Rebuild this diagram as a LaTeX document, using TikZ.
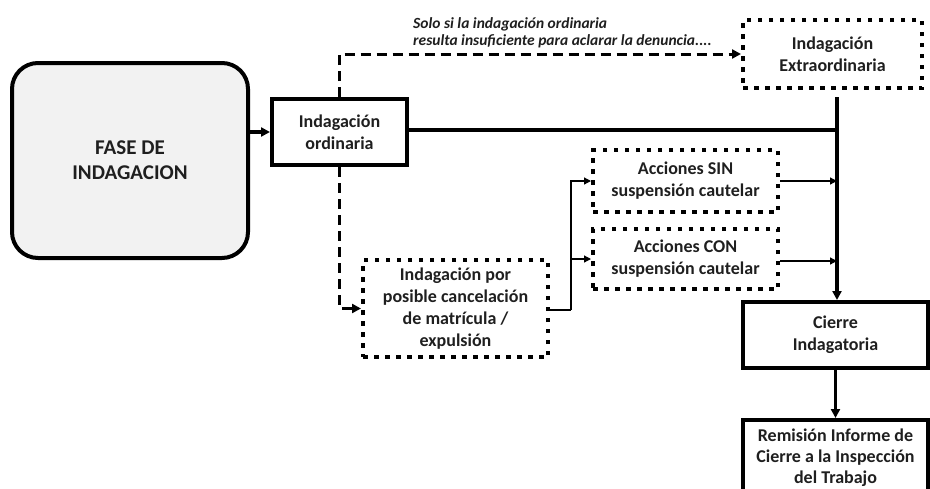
\documentclass[tikz,border=0pt]{standalone}
\usepackage{fontspec}
\setmainfont{Carlito}
\usetikzlibrary{arrows.meta,calc}
\begin{document}
\begin{tikzpicture}[x=1pt,y=-1pt,
  txt/.style={font=\bfseries\fontsize{18}{22}\selectfont, align=center, text=black!88},
  solidbox/.style={txt, draw, line width=4pt, inner sep=2pt},
  dotbox/.style={txt, draw, line width=4pt, dash pattern=on 4.5pt off 6.5pt, inner sep=2pt},
  thickline/.style={line width=3.5pt},
  dashline/.style={line width=3pt, dash pattern=on 10pt off 6pt},
  thinline/.style={line width=1.2pt},
  bigtip/.style={-{Triangle[length=9pt,width=9pt]}},
  smalltip/.style={-{Triangle[length=7pt,width=7pt]}}
]
\useasboundingbox (0,0) rectangle (930,488);
\clip (0,0) rectangle (930,488);
\fill[white] (0,0) rectangle (930,488);

\node[txt, draw, line width=4pt, fill=black!5, rounded corners=26pt,
      minimum width=236pt, minimum height=195pt,
      font=\bfseries\fontsize{21}{25}\selectfont] (fase) at (130,160.5) {FASE DE\\INDAGACION};
\node[solidbox, minimum width=135pt, minimum height=66pt] (ord) at (339.5,132) {Indagación\\ordinaria};
\node[dotbox, minimum width=179pt, minimum height=68pt] (extra) at (832.5,54) {Indagación\\Extraordinaria};
\node[dotbox, minimum width=185pt, minimum height=62pt] (sin) at (685.5,181) {Acciones SIN\\suspensión cautelar};
\node[dotbox, minimum width=185pt, minimum height=60pt] (con) at (685.5,259) {Acciones CON\\suspensión cautelar};
\node[dotbox, minimum width=185pt, minimum height=97pt] (canc) at (455.5,308.5) {Indagación por\\posible cancelación\\de matrícula /\\expulsión};
\node[solidbox, minimum width=185pt, minimum height=66pt] (cierre) at (835.5,335) {Cierre\\Indagatoria};
\node[solidbox, minimum width=185pt, minimum height=76pt, anchor=north,
      font=\bfseries\fontsize{18}{21}\selectfont] (rem) at (835.5,418) {Remisión Informe de\\Cierre a la Inspección\\del Trabajo};
\node[font=\bfseries\itshape\fontsize{15.5}{17}\selectfont, align=left, anchor=north west, inner sep=0pt, text=black!88] (nota) at (413,17) {Solo si la indagación ordinaria\\resulta insuficiente para aclarar la denuncia....};

\coordinate (vtop) at (837,97);
\coordinate (hjoin) at (837,130);
\coordinate (vsin) at (837,181);
\coordinate (vcon) at (837,261);
\coordinate (split) at (571,310);

% connectors
\draw[thickline, bigtip] (fase.east |- ord.west) -- (ord.west);
\draw[dashline, bigtip] (ord.north) |- (extra.west);
\draw[dashline, bigtip] (ord.south) |- (canc.west);
\draw[thickline] (ord.east |- hjoin) -- (hjoin);
\draw[thickline, bigtip] (vtop) -- (vtop |- cierre.north);
\draw[thickline, bigtip] (cierre.south) -- (rem.north);
\draw[thinline, smalltip] (sin.east) -- (vsin);
\draw[thinline, smalltip] (con.east |- vcon) -- (vcon);
\draw[thinline] (canc.east |- split) -- (split);
\draw[thinline, smalltip] (split) |- (sin.west);
\draw[thinline, smalltip] (split) |- (con.west);
\end{tikzpicture}
\end{document}
